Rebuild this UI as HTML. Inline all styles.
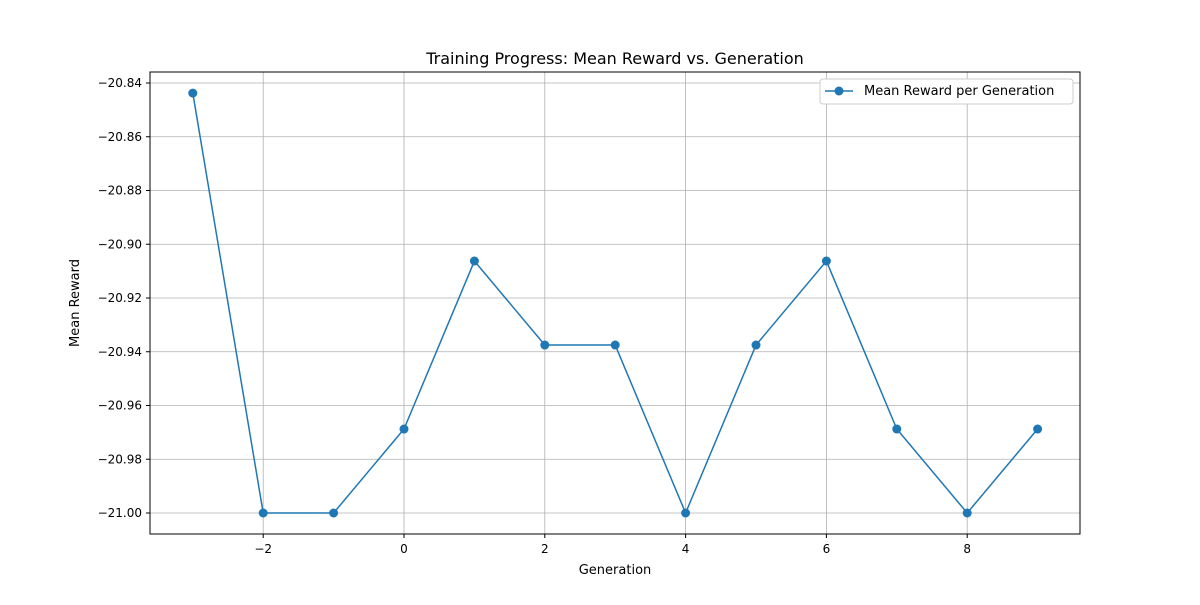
<!DOCTYPE html>
<html><head><meta charset="utf-8"><style>
body{margin:0;background:#fff;font-family:"Liberation Sans","DejaVu Sans",sans-serif;}
svg text{font-family:"DejaVu Sans","Liberation Sans",sans-serif;}
</style></head><body>
<svg id="chart" width="1200" height="600" xmlns="http://www.w3.org/2000/svg">
<rect width="1200" height="600" fill="#fff"/>
<text x="615" y="64" text-anchor="middle" font-size="16">Training Progress: Mean Reward vs. Generation</text>
<g id="grid"></g>
<g id="ticks"></g>
<g id="series"></g>
<rect x="150" y="72" width="930" height="462" fill="none" stroke="#000" stroke-width="1"/>
<text x="615" y="574" text-anchor="middle" font-size="13">Generation</text>
<text x="79" y="303" text-anchor="middle" font-size="13" transform="rotate(-90 79 303)">Mean Reward</text>
<g>
<rect x="820" y="79" width="253" height="25" rx="3" fill="#fff" stroke="#ccc"/>
<line x1="825" y1="91" x2="853" y2="91" stroke="#1f77b4" stroke-width="1.5"/>
<circle cx="839" cy="91" r="4.5" fill="#1f77b4"/>
<text x="864" y="95" font-size="13">Mean Reward per Generation</text>
</g>
</svg>
<script>
const generations=[-3,-2,-1,0,1,2,3,4,5,6,7,8,9];
const rewards=[-20.84375,-21,-21,-20.96875,-20.90625,-20.9375,-20.9375,-21,-20.9375,-20.90625,-20.96875,-21,-20.96875];
const xTicks=[-2,0,2,4,6,8];
const yTicks=[-20.84,-20.86,-20.88,-20.90,-20.92,-20.94,-20.96,-20.98,-21.00];
const NS="http://www.w3.org/2000/svg";
const X=v=>404+(v)*70.4;
const Y=v=>83+(-20.84-v)*2687.5;
function mk(t,a,p){const e=document.createElementNS(NS,t);for(const k in a)e.setAttribute(k,a[k]);p.appendChild(e);return e;}
const g=document.getElementById('grid'),tk=document.getElementById('ticks'),s=document.getElementById('series');
xTicks.forEach(v=>{
const l=mk('line',{x1:X(v),x2:X(v),y1:72,y2:534,stroke:'#b0b0b0','stroke-width':0.8},g);


mk('line',{x1:X(v),x2:X(v),y1:534,y2:538,stroke:'#000'},tk);
const t=mk('text',{x:X(v),y:553,'text-anchor':'middle','font-size':12},tk);
t.textContent=(v<0?'\u2212'+(-v):v);


});
yTicks.forEach(v=>{
const l=mk('line',{x1:150,x2:1080,y1:Y(v),y2:Y(v),stroke:'#b0b0b0','stroke-width':0.8},g);


mk('line',{x1:146,x2:150,y1:Y(v),y2:Y(v),stroke:'#000'},tk);
const t=mk('text',{x:142,y:Y(v)+4,'text-anchor':'end','font-size':12},tk);
t.textContent='\u2212'+(-v).toFixed(2);


});
const pl=mk('polyline',{points:generations.map((g,i)=>X(g)+','+Y(rewards[i])).join(' '),fill:'none',stroke:'#1f77b4','stroke-width':1.5},s);


generations.forEach((gv,i)=>{
const c=mk('circle',{cx:X(gv),cy:Y(rewards[i]),r:4.5,fill:'#1f77b4'},s);


});
</script>
</body></html>
